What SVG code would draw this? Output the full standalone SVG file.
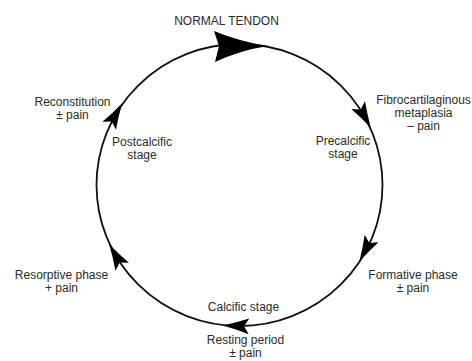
<svg xmlns="http://www.w3.org/2000/svg" width="472" height="361" viewBox="0 0 472 361">
  <style>
    .lbl { font-family: "Liberation Sans", Arial, sans-serif; font-size: 12px; fill: #2b2b2b; text-anchor: middle; }
    .ring { fill: none; stroke: #111; stroke-width: 1.8; }
    .head { fill: #000; stroke: none; }
  </style>
  <defs>
    <path id="ah" d="M13,0 Q-1,-3.5 -13,-7.8 L-8,0 L-13,7.8 Q-1,3.5 13,0 Z"/>
    <path id="ahBig" d="M27,0 Q0,-4 -27,-15 L-22,0 L-26,16 Q0,4 27,0 Z"/>
  </defs>
  <rect width="472" height="361" fill="#fff"/>

  <g id="connectors">
    <ellipse class="ring" cx="239.5" cy="185" rx="143" ry="141"/>
    <use href="#ahBig" class="head" transform="translate(241,46) rotate(0)"/>
    <use href="#ah" class="head" transform="translate(364.5,116.5) rotate(61)"/>
    <use href="#ah" class="head" transform="translate(365.5,250) rotate(118)"/>
    <use href="#ah" class="head" transform="translate(236,325.9) rotate(182)"/>
    <use href="#ah" class="head" transform="translate(115.7,255.5) rotate(240)"/>
    <use href="#ah" class="head" transform="translate(115.7,114.5) rotate(300)"/>
  </g>

  <g id="normal-tendon"><text class="lbl" x="226.5" y="25">NORMAL TENDON</text></g>
  <g id="reconstitution"><text class="lbl" x="72.5" y="106">Reconstitution</text><text class="lbl" x="72.5" y="119">± pain</text></g>
  <g id="postcalcific"><text class="lbl" x="142" y="146">Postcalcific</text><text class="lbl" x="142" y="159">stage</text></g>
  <g id="fibrocartilaginous"><text class="lbl" x="423.5" y="104">Fibrocartilaginous</text><text class="lbl" x="423.5" y="117">metaplasia</text><text class="lbl" x="423.5" y="130">– pain</text></g>
  <g id="precalcific"><text class="lbl" x="343" y="145">Precalcific</text><text class="lbl" x="343" y="158">stage</text></g>
  <g id="resorptive"><text class="lbl" x="61.5" y="279">Resorptive phase</text><text class="lbl" x="61.5" y="292">+ pain</text></g>
  <g id="formative"><text class="lbl" x="413" y="279">Formative phase</text><text class="lbl" x="413" y="292">± pain</text></g>
  <g id="calcific"><text class="lbl" x="243.5" y="311">Calcific stage</text></g>
  <g id="resting"><text class="lbl" x="245.5" y="344">Resting period</text><text class="lbl" x="245.5" y="357">± pain</text></g>
</svg>
